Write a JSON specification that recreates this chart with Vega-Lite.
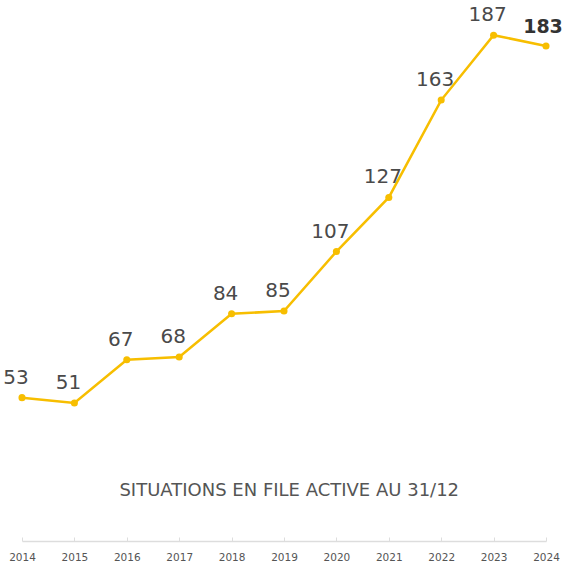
{
  "$schema": "https://vega.github.io/schema/vega-lite/v6.json",
  "width": 524,
  "height": 541,
  "autosize": {"type": "none"},
  "padding": {"left": 22, "top": 0, "right": 18, "bottom": 24},
  "background": "white",
  "config": {"view": {"stroke": null}, "font": "DejaVu Sans"},
  "datasets": {
    "main": [
      {"year": 2014, "value": 53},
      {"year": 2015, "value": 51},
      {"year": 2016, "value": 67},
      {"year": 2017, "value": 68},
      {"year": 2018, "value": 84},
      {"year": 2019, "value": 85},
      {"year": 2020, "value": 107},
      {"year": 2021, "value": 127},
      {"year": 2022, "value": 163},
      {"year": 2023, "value": 187},
      {"year": 2024, "value": 183}
    ],
    "caption": [
      {"year": 2019.1, "value": 18.5, "label": "SITUATIONS EN FILE ACTIVE AU 31/12"}
    ]
  },
  "layer": [
    {
      "data": {"name": "main"},
      "mark": {"type": "line", "color": "#F7BE00", "strokeWidth": 2.5},
      "encoding": {
        "x": {
          "field": "year", "type": "quantitative",
          "scale": {"domain": [2014, 2024], "nice": false, "zero": false},
          "axis": {
            "title": null, "format": "d",
            "values": [2014, 2015, 2016, 2017, 2018, 2019, 2020, 2021, 2022, 2023, 2024],
            "grid": false, "domainColor": "#dddddd", "tickColor": "#dddddd",
            "tickSize": -4, "labelPadding": 15, "labelFontSize": 10.5,
            "labelFlush": false, "labelOverlap": false, "labelBound": false,
            "labelColor": "#555555", "labelFont": "DejaVu Sans", "domainWidth": 1.5
          }
        },
        "y": {
          "field": "value", "type": "quantitative",
          "scale": {"domain": [0, 200], "nice": false},
          "axis": null
        }
      }
    },
    {
      "data": {"name": "main"},
      "mark": {"type": "point", "filled": true, "color": "#F7BE00", "size": 50, "opacity": 1},
      "encoding": {
        "x": {"field": "year", "type": "quantitative"},
        "y": {"field": "value", "type": "quantitative"}
      }
    },
    {
      "data": {"name": "main"},
      "transform": [{"filter": "datum.year != 2024"}],
      "mark": {"type": "text", "dx": -6, "dy": -20, "fontSize": 20, "font": "DejaVu Sans", "color": "#4a4a4a"},
      "encoding": {
        "x": {"field": "year", "type": "quantitative"},
        "y": {"field": "value", "type": "quantitative"},
        "text": {"field": "value", "type": "quantitative"}
      }
    },
    {
      "data": {"name": "main"},
      "transform": [{"filter": "datum.year == 2024"}],
      "mark": {"type": "text", "dx": -3, "dy": -19, "fontSize": 19, "fontWeight": "bold", "font": "DejaVu Sans", "color": "#333333"},
      "encoding": {
        "x": {"field": "year", "type": "quantitative"},
        "y": {"field": "value", "type": "quantitative"},
        "text": {"field": "value", "type": "quantitative"}
      }
    },
    {
      "data": {"name": "caption"},
      "mark": {"type": "text", "fontSize": 18, "font": "DejaVu Sans", "color": "#555555"},
      "encoding": {
        "x": {"field": "year", "type": "quantitative"},
        "y": {"field": "value", "type": "quantitative"},
        "text": {"field": "label"}
      }
    }
  ]
}
